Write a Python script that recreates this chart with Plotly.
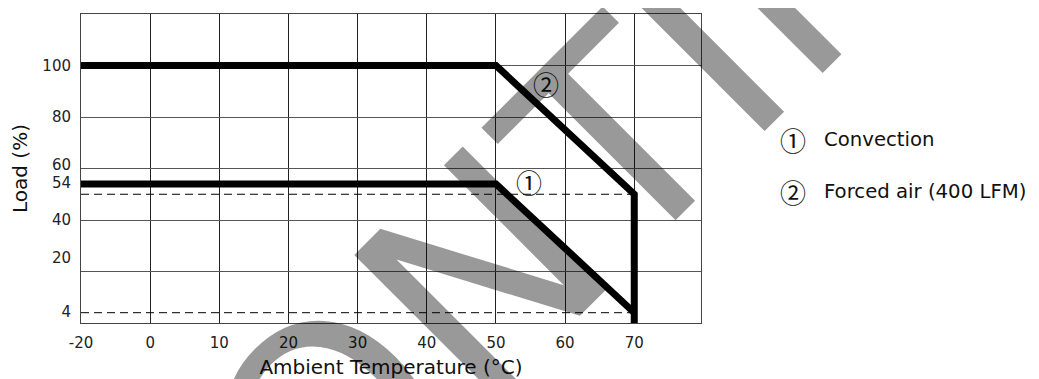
import plotly.graph_objects as go

# ---------------- data ----------------
temp_ticks = [-20, 0, 10, 20, 30, 40, 50, 60, 70]
temp_tick_text = ["-20", "0", "10", "20", "30", "40", "50", "60", "70"]
temp_max = 79.65

load_grid = [0, 20, 40, 60, 80, 100, 120]
load_label_pos = [100, 80, 61.5, 54.6, 40, 25.4, 4.5]
load_label_text = ["100", "80", "60", "54", "40", "20", "4"]

conv_temp = [-20, 50, 70]
conv_load = [54, 54, 4]

forced_temp = [-20, 50, 70, 70]
forced_load = [100, 100, 50, 0]

ref_temp = [-20, 70]
ref_levels = [50, 4]

series_marks = ["①", "②"]
series_names = ["Convection", "Forced air (400 LFM)"]
mark_temp = [54.8, 57.2]
mark_load = [54.8, 93]

watermark = "DISCONTINUED"


def xpos(t):
    # the -20..0 span is drawn as one cell, the same width as a 10 °C cell
    return t / 2 if t < 0 else t


FONT = "DejaVu Sans"
MARK_FONT = "Noto Sans CJK JP"

# the page body adds an 8 px margin; the figure is sized to fill the rest
W, H = 1031, 371
PL, PT, PW, PH = 73, 6, 620, 309


def px(xw):   # window x -> paper
    return (xw - 8 - PL) / PW


def py(yw):   # window y -> paper
    return 1 - (yw - 8 - PT) / PH


fig = go.Figure()

for lvl in ref_levels:
    fig.add_trace(go.Scatter(
        x=[xpos(t) for t in ref_temp], y=[lvl, lvl], yaxis="y2",
        mode="lines", line=dict(color="#000", width=1, dash="8px,5px"),
        hoverinfo="skip", showlegend=False))

fig.add_trace(go.Scatter(
    x=[xpos(t) for t in forced_temp], y=forced_load, mode="lines",
    line=dict(color="#000", width=7), name=series_names[1], showlegend=False))
fig.add_trace(go.Scatter(
    x=[xpos(t) for t in conv_temp], y=conv_load, mode="lines",
    line=dict(color="#000", width=7), name=series_names[0], showlegend=False))

annotations = []
for m, t, l in zip(series_marks, mark_temp, mark_load):
    annotations.append(dict(x=xpos(t), y=l, xref="x", yref="y", text=m,
                            showarrow=False, font=dict(family=MARK_FONT, size=26, color="#111")))

leg_y = [139, 191]
for m, name, yy in zip(series_marks, series_names, leg_y):
    annotations.append(dict(x=px(793), y=py(yy), xref="paper", yref="paper",
                            text=m, showarrow=False, xanchor="center", yanchor="middle",
                            font=dict(family=MARK_FONT, size=26, color="#111")))
    annotations.append(dict(x=px(822), y=py(yy), xref="paper", yref="paper",
                            text=name, showarrow=False, xanchor="left", yanchor="middle",
                            font=dict(family=FONT, size=19.7, color="#111")))

annotations.append(dict(x=px(543), y=py(217), xref="paper", yref="paper",
                        text=watermark, showarrow=False, textangle=-45,
                        xanchor="center", yanchor="middle",
                        font=dict(family=FONT, size=278, color="rgba(0,0,0,0.4)")))

fig.update_layout(
    width=W, height=H,
    margin=dict(l=PL, r=W - PL - PW, t=PT, b=H - PT - PH, autoexpand=False),
    paper_bgcolor="white", plot_bgcolor="white",
    showlegend=False,
    annotations=annotations,
    xaxis=dict(
        range=[xpos(-20), temp_max], automargin=False,
        tickvals=[xpos(t) for t in temp_ticks], ticktext=temp_tick_text,
        showgrid=True, gridcolor="#222", gridwidth=1, zeroline=False,
        showline=True, linecolor="#444", linewidth=1, mirror=True,
        ticks="", ticklabelstandoff=6,
        tickfont=dict(family=FONT, size=15, color="#222"),
        title=dict(text="Ambient Temperature (°C)", standoff=16,
                   font=dict(family=FONT, size=20, color="#111")),
    ),
    yaxis=dict(
        range=[0, 120], automargin=False,
        tickvals=load_label_pos, ticktext=load_label_text,
        showgrid=False, zeroline=False,
        showline=True, linecolor="#444", linewidth=1, mirror=True,
        ticks="", ticklabelstandoff=6,
        tickfont=dict(family=FONT, size=15, color="#222"),
        title=dict(text="Load (%)", standoff=13,
                   font=dict(family=FONT, size=20, color="#111")),
    ),
    yaxis2=dict(
        range=[0, 120], overlaying="y", side="left", automargin=False,
        tickvals=load_grid, showticklabels=False,
        showgrid=True, gridcolor="#555", gridwidth=1, zeroline=False,
        showline=False, ticks="",
    ),
)

fig.write_html("out.html")
